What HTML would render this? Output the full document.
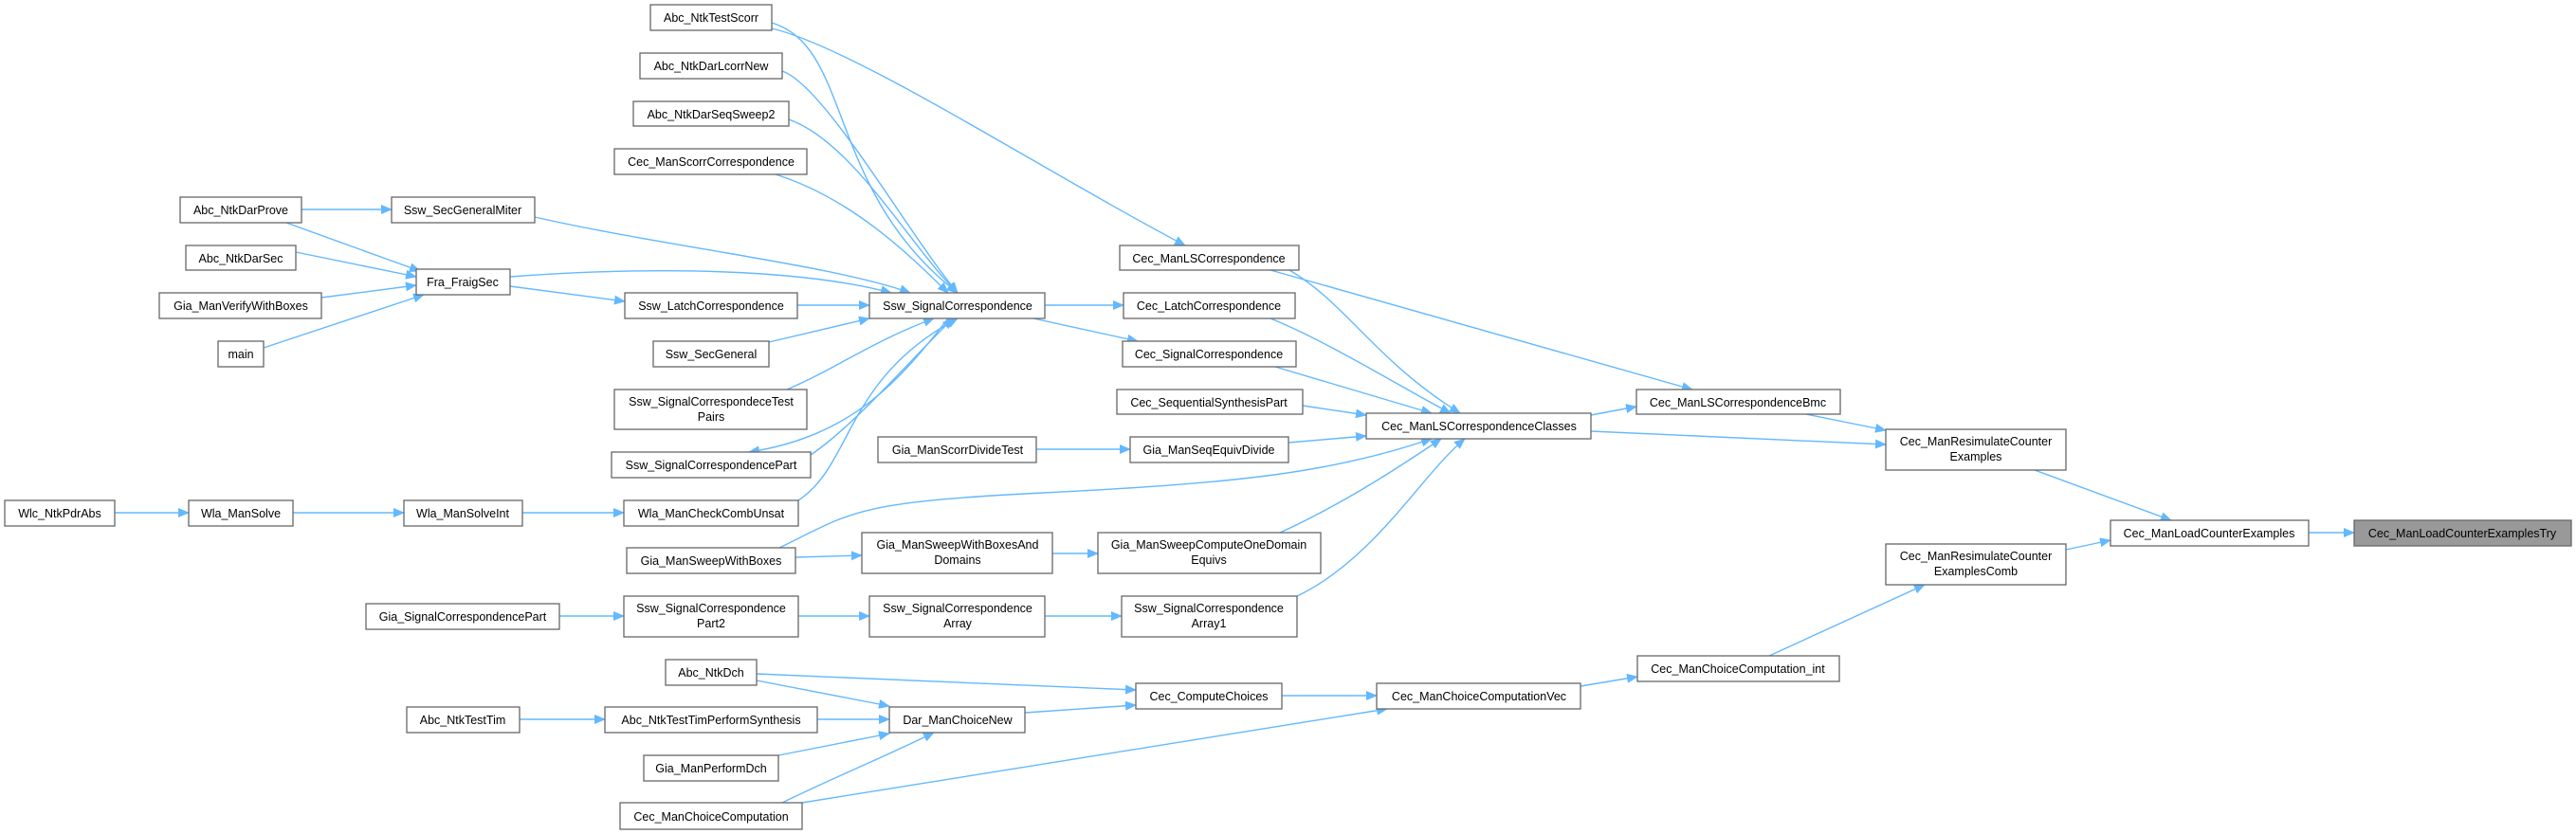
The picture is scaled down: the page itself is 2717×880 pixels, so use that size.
<!DOCTYPE html>
<html><head><meta charset="utf-8"><style>
html,body{margin:0;padding:0;background:#fff;}
svg{display:block;}
text{font-family:"Liberation Sans",Arial,sans-serif;font-size:12.5px;fill:#000;text-anchor:middle;}
.n{fill:#fff;stroke:#666;stroke-width:1.3;}
.e{fill:none;stroke:#63b8ff;stroke-width:1.4;marker-end:url(#a);}
</style></head><body>
<svg width="2717" height="880" viewBox="0 0 2717 880" xmlns="http://www.w3.org/2000/svg">
<defs><marker id="a" markerWidth="12" markerHeight="10" refX="11" refY="5" orient="auto" markerUnits="userSpaceOnUse"><path d="M0,0 L12,5 L0,10 Z" fill="#63b8ff"/></marker></defs>
<g>
<path class="e" d="M814,24 C900,50 870,200 1010,309"/>
<path class="e" d="M814,30 C900,50 1100,180 1250,259"/>
<path class="e" d="M825,75 C870,90 960,250 1010,309"/>
<path class="e" d="M832,126 C900,150 960,260 1010,309"/>
<path class="e" d="M818,184 C900,210 960,270 1000,309"/>
<path class="e" d="M318,221 L413,221"/>
<path class="e" d="M302,235 L443,286"/>
<path class="e" d="M312,266 L439,292"/>
<path class="e" d="M339,314 L439,301"/>
<path class="e" d="M278,367 L447,311"/>
<path class="e" d="M564,229 C700,260 880,280 960,309"/>
<path class="e" d="M538,292 C700,280 850,285 940,309"/>
<path class="e" d="M538,302 L659,318"/>
<path class="e" d="M841,322 L917,322"/>
<path class="e" d="M811,361 L917,336"/>
<path class="e" d="M830,411 C880,390 920,360 985,336"/>
<path class="e" d="M1000,336 C950,400 900,460 790,477"/>
<path class="e" d="M855,480 C900,450 960,380 1005,336"/>
<path class="e" d="M842,528 C900,490 890,400 1010,336"/>
<path class="e" d="M121,541 L199,541"/>
<path class="e" d="M309,541 L426,541"/>
<path class="e" d="M551,541 L658,541"/>
<path class="e" d="M1102,322 L1185,322"/>
<path class="e" d="M1090,336 L1200,360"/>
<path class="e" d="M1360,285 C1420,320 1450,380 1540,436"/>
<path class="e" d="M1340,285 L1785,411"/>
<path class="e" d="M1340,336 C1400,360 1480,410 1530,436"/>
<path class="e" d="M1345,387 L1510,436"/>
<path class="e" d="M1374,428 L1441,438"/>
<path class="e" d="M1359,467 L1441,460"/>
<path class="e" d="M1093,474 L1192,474"/>
<path class="e" d="M822,578 C900,540 900,530 1100,520 S1400,500 1510,463"/>
<path class="e" d="M839,588 L909,586"/>
<path class="e" d="M1110,584 L1158,584"/>
<path class="e" d="M1350,562 C1420,530 1480,490 1520,463"/>
<path class="e" d="M1368,629 C1450,590 1500,500 1545,463"/>
<path class="e" d="M590,650 L658,650"/>
<path class="e" d="M842,650 L917,650"/>
<path class="e" d="M1102,650 L1183,650"/>
<path class="e" d="M1678,438 L1726,429"/>
<path class="e" d="M1678,455 L1989,469"/>
<path class="e" d="M1905,437 L1989,454"/>
<path class="e" d="M2146,496 L2290,549"/>
<path class="e" d="M2179,580 L2226,570"/>
<path class="e" d="M2435,562 L2483,562"/>
<path class="e" d="M1866,692 L2030,617"/>
<path class="e" d="M1667,724 L1727,714"/>
<path class="e" d="M1352,734 L1452,734"/>
<path class="e" d="M1081,752 L1198,744"/>
<path class="e" d="M798,711 L1198,728"/>
<path class="e" d="M798,718 L938,745"/>
<path class="e" d="M548,759 L638,759"/>
<path class="e" d="M862,759 L938,759"/>
<path class="e" d="M821,797 L938,774"/>
<path class="e" d="M825,847 C880,820 930,800 985,773"/>
<path class="e" d="M846,847 L1463,748"/>
</g>
<g>
<rect class="n" x="686" y="5" width="128" height="27"/><text x="750" y="23">Abc_NtkTestScorr</text>
<rect class="n" x="675" y="56" width="150" height="27"/><text x="750" y="74">Abc_NtkDarLcorrNew</text>
<rect class="n" x="668" y="107" width="164" height="26"/><text x="750" y="125">Abc_NtkDarSeqSweep2</text>
<rect class="n" x="648" y="157" width="203" height="27"/><text x="750" y="175">Cec_ManScorrCorrespondence</text>
<rect class="n" x="190" y="208" width="128" height="27"/><text x="254" y="226">Abc_NtkDarProve</text>
<rect class="n" x="413" y="208" width="151" height="27"/><text x="488" y="226">Ssw_SecGeneralMiter</text>
<rect class="n" x="196" y="259" width="116" height="26"/><text x="254" y="277">Abc_NtkDarSec</text>
<rect class="n" x="439" y="284" width="99" height="27"/><text x="488" y="302">Fra_FraigSec</text>
<rect class="n" x="168" y="309" width="171" height="27"/><text x="254" y="327">Gia_ManVerifyWithBoxes</text>
<rect class="n" x="659" y="309" width="182" height="27"/><text x="750" y="327">Ssw_LatchCorrespondence</text>
<rect class="n" x="917" y="309" width="185" height="27"/><text x="1010" y="327">Ssw_SignalCorrespondence</text>
<rect class="n" x="230" y="360" width="48" height="27"/><text x="254" y="378">main</text>
<rect class="n" x="689" y="360" width="122" height="27"/><text x="750" y="378">Ssw_SecGeneral</text>
<rect class="n" x="648" y="411" width="203" height="42"/><text x="750" y="428">Ssw_SignalCorrespondeceTest</text><text x="750" y="444">Pairs</text>
<rect class="n" x="645" y="477" width="210" height="27"/><text x="750" y="495">Ssw_SignalCorrespondencePart</text>
<rect class="n" x="5" y="528" width="116" height="27"/><text x="63" y="546">Wlc_NtkPdrAbs</text>
<rect class="n" x="199" y="528" width="110" height="27"/><text x="254" y="546">Wla_ManSolve</text>
<rect class="n" x="426" y="528" width="125" height="27"/><text x="488" y="546">Wla_ManSolveInt</text>
<rect class="n" x="658" y="528" width="184" height="27"/><text x="750" y="546">Wla_ManCheckCombUnsat</text>
<rect class="n" x="661" y="578" width="178" height="27"/><text x="750" y="596">Gia_ManSweepWithBoxes</text>
<rect class="n" x="909" y="562" width="201" height="43"/><text x="1010" y="579">Gia_ManSweepWithBoxesAnd</text><text x="1010" y="595">Domains</text>
<rect class="n" x="386" y="637" width="204" height="27"/><text x="488" y="655">Gia_SignalCorrespondencePart</text>
<rect class="n" x="658" y="629" width="184" height="43"/><text x="750" y="646">Ssw_SignalCorrespondence</text><text x="750" y="662">Part2</text>
<rect class="n" x="917" y="629" width="185" height="43"/><text x="1010" y="646">Ssw_SignalCorrespondence</text><text x="1010" y="662">Array</text>
<rect class="n" x="702" y="696" width="96" height="27"/><text x="750" y="714">Abc_NtkDch</text>
<rect class="n" x="429" y="746" width="119" height="27"/><text x="488" y="764">Abc_NtkTestTim</text>
<rect class="n" x="638" y="746" width="224" height="27"/><text x="750" y="764">Abc_NtkTestTimPerformSynthesis</text>
<rect class="n" x="938" y="746" width="143" height="27"/><text x="1010" y="764">Dar_ManChoiceNew</text>
<rect class="n" x="679" y="797" width="142" height="27"/><text x="750" y="815">Gia_ManPerformDch</text>
<rect class="n" x="654" y="847" width="192" height="28"/><text x="750" y="866">Cec_ManChoiceComputation</text>
<rect class="n" x="1181" y="259" width="189" height="26"/><text x="1275" y="277">Cec_ManLSCorrespondence</text>
<rect class="n" x="1185" y="309" width="181" height="27"/><text x="1275" y="327">Cec_LatchCorrespondence</text>
<rect class="n" x="1184" y="360" width="183" height="27"/><text x="1275" y="378">Cec_SignalCorrespondence</text>
<rect class="n" x="1178" y="411" width="196" height="26"/><text x="1275" y="429">Cec_SequentialSynthesisPart</text>
<rect class="n" x="926" y="461" width="167" height="27"/><text x="1010" y="479">Gia_ManScorrDivideTest</text>
<rect class="n" x="1192" y="461" width="167" height="27"/><text x="1275" y="479">Gia_ManSeqEquivDivide</text>
<rect class="n" x="1441" y="436" width="237" height="27"/><text x="1560" y="454">Cec_ManLSCorrespondenceClasses</text>
<rect class="n" x="1158" y="562" width="235" height="43"/><text x="1275" y="579">Gia_ManSweepComputeOneDomain</text><text x="1275" y="595">Equivs</text>
<rect class="n" x="1183" y="629" width="185" height="43"/><text x="1275" y="646">Ssw_SignalCorrespondence</text><text x="1275" y="662">Array1</text>
<rect class="n" x="1198" y="721" width="154" height="27"/><text x="1275" y="739">Cec_ComputeChoices</text>
<rect class="n" x="1452" y="721" width="215" height="27"/><text x="1560" y="739">Cec_ManChoiceComputationVec</text>
<rect class="n" x="1726" y="411" width="215" height="26"/><text x="1833" y="429">Cec_ManLSCorrespondenceBmc</text>
<rect class="n" x="1727" y="692" width="213" height="27"/><text x="1833" y="710">Cec_ManChoiceComputation_int</text>
<rect class="n" x="1989" y="453" width="190" height="43"/><text x="2084" y="470">Cec_ManResimulateCounter</text><text x="2084" y="486">Examples</text>
<rect class="n" x="1989" y="574" width="190" height="43"/><text x="2084" y="591">Cec_ManResimulateCounter</text><text x="2084" y="607">ExamplesComb</text>
<rect class="n" x="2226" y="549" width="209" height="27"/><text x="2330" y="567">Cec_ManLoadCounterExamples</text>
<rect x="2483" y="549" width="229" height="27" fill="#999" stroke="#666" stroke-width="1.3"/><text x="2597" y="567">Cec_ManLoadCounterExamplesTry</text>
</g>
</svg>
</body></html>
